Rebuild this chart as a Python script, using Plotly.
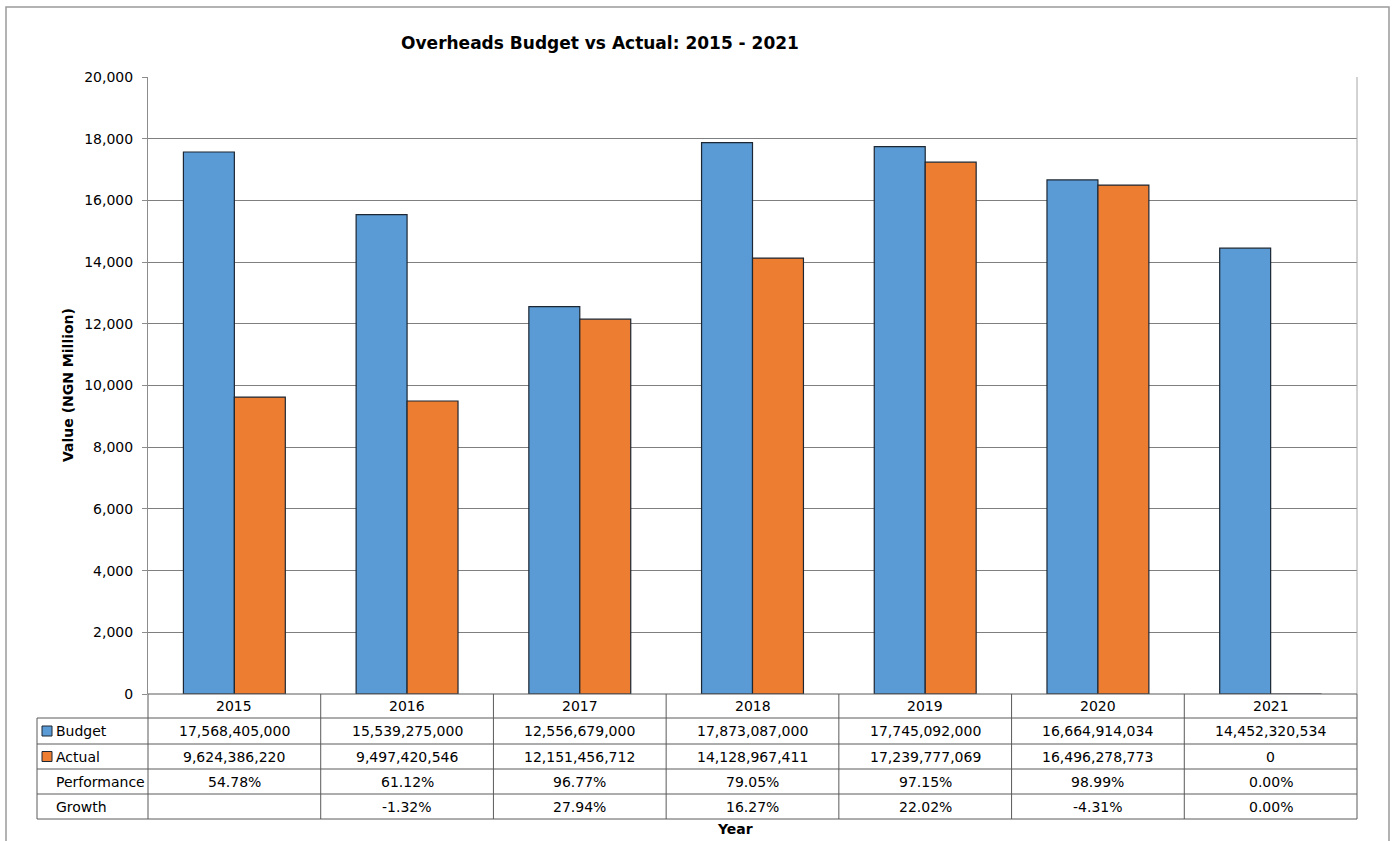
import plotly.graph_objects as go

years = ["2015", "2016", "2017", "2018", "2019", "2020", "2021"]
budget = [17568405000, 15539275000, 12556679000, 17873087000, 17745092000, 16664914034, 14452320534]
actual = [9624386220, 9497420546, 12151456712, 14128967411, 17239777069, 16496278773, 0]
performance = ["54.78%", "61.12%", "96.77%", "79.05%", "97.15%", "98.99%", "0.00%"]
growth = ["", "-1.32%", "27.94%", "16.27%", "22.02%", "-4.31%", "0.00%"]
y_ticks = [0, 2000, 4000, 6000, 8000, 10000, 12000, 14000, 16000, 18000, 20000]

BLUE = "#5B9BD5"
ORANGE = "#ED7D31"
EDGE = "#1c2733"
FONT = "DejaVu Sans"

W, H = 1394, 841
L, R, T, B = 148, 1357, 77, 694


def px(xp):
    return (xp - L) / (R - L)


def py(yp):
    return (B - yp) / (B - T)


fig = go.Figure()
fig.add_bar(x=years, y=[v / 1e6 for v in budget], name="Budget",
            marker=dict(color=BLUE, line=dict(color=EDGE, width=1.2)))
fig.add_bar(x=years, y=[v / 1e6 for v in actual], name="Actual",
            marker=dict(color=ORANGE, line=dict(color=EDGE, width=1.2)))

shapes = []
ann = []
TL = "#5a5a5a"

# outer chart border
shapes.append(dict(type="rect", xref="paper", yref="paper", x0=px(6), x1=px(1389),
                   y0=py(860), y1=py(7), line=dict(color="#9a9a9a", width=1.5)))
# right plot border
shapes.append(dict(type="line", xref="paper", yref="paper", x0=1, x1=1, y0=0, y1=1,
                   line=dict(color="#a6a6a6", width=1)))

row_y = [694, 718, 744, 769, 794, 819]
n = len(years)
# horizontal table lines
for i, yy in enumerate(row_y):
    x0 = L if i == 0 else 37
    shapes.append(dict(type="line", xref="paper", yref="paper", x0=px(x0), x1=1,
                       y0=py(yy), y1=py(yy), line=dict(color=TL, width=1)))
# vertical lines at category boundaries
for k in range(n + 1):
    xb = k / n
    shapes.append(dict(type="line", xref="paper", yref="paper", x0=xb, x1=xb,
                       y0=py(694), y1=py(819), line=dict(color=TL, width=1)))
shapes.append(dict(type="line", xref="paper", yref="paper", x0=px(37), x1=px(37),
                   y0=py(718), y1=py(819), line=dict(color=TL, width=1)))

# legend keys
for color, r in [(BLUE, 1), (ORANGE, 2)]:
    cy = (row_y[r] + row_y[r + 1]) / 2
    shapes.append(dict(type="rect", xref="paper", yref="paper", x0=px(42), x1=px(52),
                       y0=py(cy + 5), y1=py(cy - 5), fillcolor=color,
                       line=dict(color=EDGE, width=1)))

row_labels = ["Budget", "Actual", "Performance", "Growth"]
rows = [
    [f"{v:,}" for v in budget],
    [f"{v:,}" for v in actual],
    performance,
    growth,
]


def row_center(r):
    return py((row_y[r] + row_y[r + 1]) / 2)


for k, yv in enumerate(years):
    ann.append(dict(x=k, y=row_center(0), xref="x", yref="paper", text=yv,
                    yanchor="middle", showarrow=False,
                    font=dict(family=FONT, size=14, color="#000")))
    for r, vals in enumerate(rows):
        if vals[k] == "":
            continue
        ann.append(dict(x=k, y=row_center(r + 1), xref="x", yref="paper", text=vals[k],
                        yanchor="middle", showarrow=False,
                        font=dict(family=FONT, size=14, color="#000")))

for r, lab in enumerate(row_labels):
    ann.append(dict(x=px(54), y=row_center(r + 1), xref="paper", yref="paper", text=lab,
                    xanchor="left", yanchor="middle", showarrow=False,
                    font=dict(family=FONT, size=14, color="#000")))

ann.append(dict(x=px(735), y=py(829), xref="paper", yref="paper", text="<b>Year</b>",
                yanchor="middle", showarrow=False,
                font=dict(family=FONT, size=14, color="#000")))
ann.append(dict(x=px(68), y=py(385), xref="paper", yref="paper",
                text="<b>Value (NGN Million)</b>", textangle=-90, showarrow=False,
                xanchor="center", yanchor="middle",
                font=dict(family=FONT, size=14, color="#000")))

fig.update_layout(
    width=W, height=H,
    margin=dict(l=L, r=W - R, t=T, b=H - B, pad=0),
    paper_bgcolor="white", plot_bgcolor="white",
    barmode="group", bargap=0.41, bargroupgap=0,
    showlegend=False,
    title=dict(text="<b>Overheads Budget vs Actual: 2015 - 2021</b>",
               xref="container", yref="container",
               x=600 / W, xanchor="center", y=1 - 43 / H, yanchor="middle",
               font=dict(family=FONT, size=17, color="#000")),
    font=dict(family=FONT, size=14, color="#000"),
    xaxis=dict(type="category", range=[-0.5, n - 0.5], autorange=False,
               showticklabels=False, showgrid=False, zeroline=False,
               ticks="", showline=False),
    yaxis=dict(range=[0, 20000], autorange=False, tickvals=y_ticks, tickformat=",d",
               showgrid=True, gridcolor="#7f7f7f", gridwidth=1,
               zeroline=False, showline=True, linecolor="#8c8c8c", linewidth=1,
               ticks="outside", ticklen=5, tickcolor="#8c8c8c",
               ticklabelstandoff=6,
               tickfont=dict(family=FONT, size=14, color="#000")),
    shapes=shapes,
    annotations=ann,
)

fig.write_html("out.html")
